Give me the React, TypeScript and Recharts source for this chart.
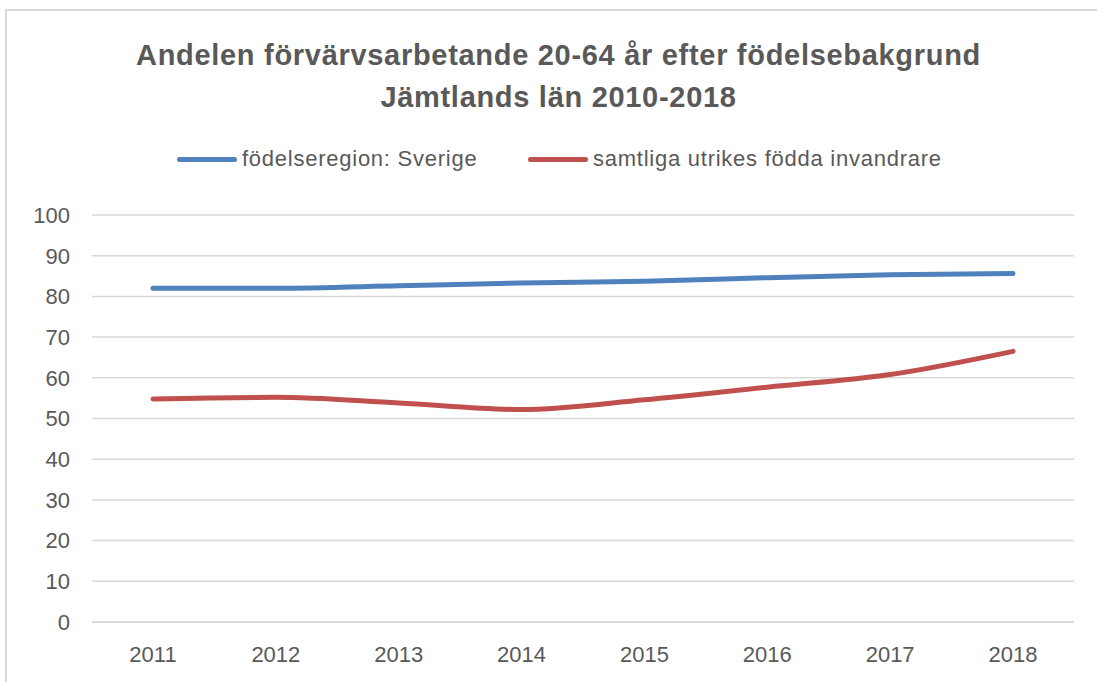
import React from 'react';
import { CartesianGrid, Line, LineChart, XAxis, YAxis } from 'recharts';

const years = ['2011', '2012', '2013', '2014', '2015', '2016', '2017', '2018'];
const sverige = [82.0, 82.0, 82.6, 83.3, 83.7, 84.6, 85.3, 85.6];
const utrikes = [54.8, 55.2, 53.8, 52.2, 54.6, 57.7, 60.8, 66.5];
const yTicks = [0, 10, 20, 30, 40, 50, 60, 70, 80, 90, 100];

const series = [
	{ key: 'sverige', name: 'födelseregion: Sverige', color: '#4f81bd', legendLeft: 177 },
	{ key: 'utrikes', name: 'samtliga utrikes födda invandrare', color: '#c0504d', legendLeft: 528 },
];

const data = years.map((year, i) => ({
	year,
	sverige: sverige[i],
	utrikes: utrikes[i],
}));

const font = '"Liberation Sans", Arial, sans-serif';
const textColor = '#595959';

export default function App() {
	return (
		<div style={{ position: 'absolute', left: 0, top: 0, width: 1097, height: 682, background: '#fff', fontFamily: font, overflow: 'hidden' }}>
			<div style={{ position: 'absolute', left: 5, top: 9, width: 1100, height: 680, border: '2px solid #d9d9d9', boxSizing: 'border-box' }} />
			<div style={{ position: 'absolute', left: 0, top: 34, width: 1117, textAlign: 'center', color: textColor, fontWeight: 'bold', fontSize: 29, letterSpacing: 0.7, lineHeight: '42px' }}>
				Andelen förvärvsarbetande 20-64 år efter födelsebakgrund
				<br />
				Jämtlands län 2010-2018
			</div>
			{series.map((s) => (
				<div key={s.key} style={{ position: 'absolute', left: s.legendLeft, top: 146, height: 26, display: 'flex', alignItems: 'center', color: textColor, fontSize: 22, letterSpacing: 0.75, whiteSpace: 'nowrap' }}>
					<div style={{ width: 60, height: 5, borderRadius: 3, background: s.color, marginRight: 5 }} />
					<span>{s.name}</span>
				</div>
			))}
			<div style={{ position: 'absolute', left: 0, top: 0 }}>
				<LineChart width={1097} height={682} data={data} margin={{ top: 215, right: 23, bottom: 0, left: 0 }}>
					<CartesianGrid vertical={false} stroke='#d9d9d9' strokeWidth={1.5} />
					<XAxis
						dataKey='year'
						height={60}
						padding={{ left: 61, right: 61 }}
						tickLine={false}
						axisLine={{ stroke: '#d9d9d9', strokeWidth: 1.5 }}
						tickSize={0}
						tickMargin={24}
						tick={{ fill: textColor, fontSize: 22, fontFamily: font }}
					/>
					<YAxis
						width={92}
						domain={[0, 100]}
						ticks={yTicks}
						interval={0}
						tickLine={false}
						axisLine={false}
						tickSize={0}
						tickMargin={22}
						tick={{ fill: textColor, fontSize: 22, fontFamily: font }}
					/>
					{series.map((s) => (
						<Line
							key={s.key}
							type='monotone'
							dataKey={s.key}
							name={s.name}
							stroke={s.color}
							strokeWidth={5}
							strokeLinecap='round'
							dot={false}
							activeDot={false}
							isAnimationActive={false}
						/>
					))}
				</LineChart>
			</div>
		</div>
	);
}
